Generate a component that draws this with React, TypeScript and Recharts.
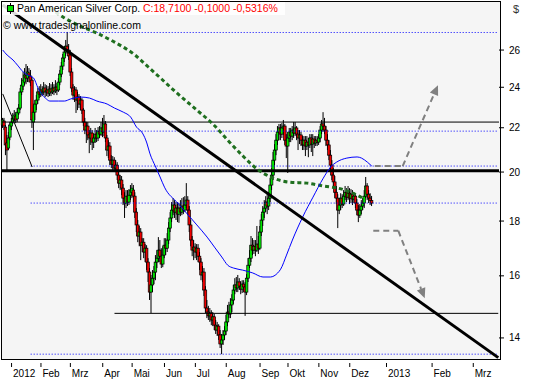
import React from 'react';
import { ComposedChart, Bar, Line, XAxis, YAxis, ReferenceLine } from 'recharts';

// Daily OHLC (trading days, late Dec 2011 .. mid Dec 2012)
const opens = [
  22.13, 22.32, 22.03, 21.29, 21.06, 21.56, 22.08, 22.27, 22.42, 22.56,
  22.42, 22.71, 22.95, 23.76, 24.06, 24.27, 24.59, 24.48, 24.75, 24.59,
  24.37, 22.27, 22.75, 23.15, 23.35, 23.76, 23.65, 23.86, 23.76, 23.96,
  23.76, 23.86, 23.70, 23.91, 23.76, 23.96, 23.81, 24.01, 23.86, 24.27,
  24.69, 25.12, 25.56, 25.89, 26.22, 26.00, 25.72, 24.80, 23.96, 23.60,
  23.86, 23.35, 23.50, 23.15, 23.35, 22.85, 22.27, 21.89, 22.08, 21.66,
  21.52, 21.75, 21.33, 21.52, 21.70, 21.52, 21.84, 21.70, 21.99, 21.80,
  22.18, 21.52, 20.97, 21.15, 20.52, 20.34, 20.52, 20.17, 20.30, 19.87,
  19.53, 19.66, 19.32, 18.91, 18.71, 18.99, 18.75, 19.03, 19.15, 19.24,
  18.99, 18.35, 17.85, 17.43, 17.58, 17.09, 17.20, 16.84, 16.98, 16.48,
  16.13, 15.45, 15.69, 15.92, 16.13, 16.48, 16.62, 16.91, 16.69, 16.41,
  16.73, 17.09, 16.98, 17.28, 17.73, 18.12, 18.43, 18.63, 18.35, 18.51,
  18.27, 18.51, 18.35, 18.59, 18.43, 18.63, 18.83, 18.43, 17.85, 17.28,
  16.91, 17.02, 16.84, 16.98, 16.69, 16.48, 16.03, 16.13, 15.52, 14.93,
  14.80, 14.68, 14.77, 14.55, 14.65, 14.39, 14.24, 14.36, 14.09, 13.82,
  13.94, 14.09, 14.21, 14.49, 14.80, 14.74, 15.03, 15.19, 15.52, 15.69,
  15.59, 15.79, 15.65, 15.55, 15.72, 15.62, 15.45, 15.92, 16.37, 16.62,
  17.09, 16.91, 17.05, 16.91, 17.13, 16.98, 17.58, 18.04, 18.35, 18.51,
  18.75, 18.59, 18.91, 19.45, 19.87, 20.52, 20.97, 21.42, 21.80, 21.99,
  21.70, 21.99, 22.08, 21.42, 21.15, 21.52, 21.80, 21.61, 21.89, 21.75,
  21.99, 21.70, 21.52, 21.66, 21.42, 21.20, 21.42, 21.15, 21.33, 21.20,
  21.52, 21.24, 21.47, 21.29, 21.42, 21.33, 21.52, 21.89, 22.18, 22.08,
  21.89, 21.42, 21.20, 20.74, 20.30, 19.87, 19.58, 19.15, 18.91, 18.43,
  18.63, 18.91, 18.67, 18.99, 19.15, 18.95, 19.11, 18.91, 19.07, 18.87,
  18.99, 18.71, 18.43, 18.23, 18.43, 18.59, 18.71, 18.99, 19.41, 19.07,
  18.91, 18.81,
];
const highs = [
  22.47, 22.47, 22.13, 21.66, 21.80, 22.27, 22.47, 22.71, 22.85, 22.75,
  22.95, 23.15, 23.96, 24.48, 24.80, 25.01, 25.23, 25.12, 25.01, 24.91,
  24.53, 23.10, 23.35, 23.60, 23.96, 24.06, 24.16, 24.06, 24.27, 24.16,
  24.11, 24.06, 24.22, 24.16, 24.27, 24.16, 24.37, 24.22, 24.48, 24.91,
  25.34, 25.78, 26.22, 26.57, 27.03, 26.34, 26.00, 25.01, 24.16, 24.06,
  24.01, 23.76, 23.65, 23.55, 23.45, 22.95, 22.47, 22.27, 22.27, 21.89,
  21.99, 21.89, 21.70, 21.99, 21.89, 22.03, 22.08, 22.27, 22.47, 22.61,
  22.32, 21.66, 21.42, 21.33, 20.74, 20.70, 20.65, 20.52, 20.43, 20.09,
  19.87, 19.83, 19.49, 19.15, 19.24, 19.24, 19.28, 19.45, 19.53, 19.45,
  19.15, 18.51, 18.04, 17.81, 17.73, 17.35, 17.35, 17.13, 17.09, 16.62,
  16.27, 16.03, 16.20, 16.34, 16.73, 16.91, 17.39, 17.28, 16.98, 17.05,
  17.35, 17.35, 17.54, 17.96, 18.35, 18.75, 18.91, 18.83, 18.75, 18.75,
  18.71, 18.83, 18.91, 18.95, 18.99, 19.53, 18.99, 18.59, 18.04, 17.43,
  17.28, 17.16, 17.13, 17.13, 16.84, 16.62, 16.34, 16.27, 15.65, 15.19,
  15.00, 14.93, 14.86, 14.80, 14.74, 14.55, 14.49, 14.42, 14.24, 14.12,
  14.24, 14.36, 14.71, 15.03, 15.13, 15.25, 15.38, 15.69, 15.92, 15.96,
  16.03, 15.92, 15.82, 15.85, 15.85, 15.79, 16.06, 16.62, 16.91, 17.43,
  17.35, 17.28, 17.28, 17.81, 17.43, 17.81, 18.27, 18.59, 18.83, 18.99,
  19.07, 19.15, 19.74, 20.17, 20.88, 21.24, 21.70, 22.08, 22.18, 22.18,
  22.22, 22.37, 22.18, 21.70, 21.80, 21.99, 21.99, 22.08, 22.27, 22.27,
  22.08, 21.89, 21.89, 21.80, 21.61, 21.61, 21.61, 21.61, 21.52, 21.70,
  21.70, 21.70, 21.61, 21.61, 21.61, 21.70, 22.08, 22.37, 22.75, 22.47,
  22.08, 21.70, 21.42, 20.97, 20.52, 20.17, 19.83, 19.41, 19.07, 18.91,
  19.11, 19.07, 19.24, 19.41, 19.32, 19.41, 19.32, 19.28, 19.24, 19.15,
  19.07, 18.87, 18.63, 18.67, 18.83, 18.91, 19.24, 19.79, 19.53, 19.24,
  19.11, 19.00,
];
const lows = [
  21.99, 21.89, 20.74, 20.00, 20.97, 21.42, 21.89, 22.18, 22.32, 22.22,
  22.27, 22.61, 22.85, 23.60, 23.86, 24.11, 24.16, 24.27, 24.27, 24.06,
  21.99, 20.97, 22.37, 22.85, 23.15, 23.45, 23.50, 23.55, 23.60, 23.50,
  23.55, 23.50, 23.55, 23.55, 23.65, 23.60, 23.70, 23.60, 23.76, 24.11,
  24.53, 24.91, 25.34, 25.67, 25.78, 25.45, 24.59, 23.76, 23.35, 23.25,
  22.71, 22.85, 22.95, 22.85, 22.66, 22.08, 21.70, 21.29, 21.42, 20.83,
  21.20, 20.97, 21.06, 21.29, 21.33, 21.38, 21.52, 21.61, 21.56, 21.61,
  21.33, 20.70, 20.61, 20.30, 20.17, 20.09, 20.00, 20.00, 19.66, 19.32,
  19.24, 19.03, 18.63, 18.12, 18.51, 18.59, 18.63, 18.83, 18.91, 18.75,
  18.12, 17.58, 17.20, 17.05, 16.55, 16.84, 16.62, 16.48, 16.20, 15.79,
  15.19, 14.77, 15.45, 15.72, 15.85, 16.27, 16.48, 16.48, 16.27, 16.30,
  16.62, 16.73, 16.84, 17.13, 17.58, 17.96, 18.23, 18.12, 18.04, 17.96,
  17.93, 18.19, 18.23, 18.27, 18.35, 18.51, 18.23, 17.58, 17.05, 16.69,
  16.55, 16.62, 16.55, 16.48, 16.20, 15.85, 15.79, 15.32, 14.77, 14.61,
  14.55, 14.49, 14.39, 14.36, 14.24, 14.12, 14.06, 13.94, 13.70, 13.52,
  13.79, 13.94, 14.09, 14.36, 14.61, 14.61, 14.80, 15.06, 15.38, 15.45,
  15.45, 15.52, 15.38, 15.42, 15.45, 14.68, 15.35, 15.79, 16.27, 16.48,
  16.73, 16.77, 16.69, 16.84, 16.77, 16.91, 17.43, 17.81, 18.12, 18.35,
  18.27, 18.43, 18.75, 19.24, 19.66, 20.30, 20.74, 21.20, 21.42, 21.42,
  21.52, 21.66, 21.20, 20.61, 19.96, 21.33, 21.33, 21.42, 21.52, 21.61,
  21.42, 20.97, 21.24, 21.15, 20.97, 20.97, 20.70, 20.97, 20.65, 21.06,
  20.88, 20.70, 21.06, 21.15, 21.15, 21.20, 21.33, 21.70, 21.80, 21.70,
  21.15, 20.97, 20.52, 20.09, 19.66, 19.41, 18.91, 18.67, 17.73, 18.27,
  18.43, 18.51, 18.59, 18.83, 18.75, 18.83, 18.67, 18.71, 18.63, 18.71,
  18.51, 18.23, 17.96, 18.12, 18.27, 18.43, 18.51, 18.91, 18.83, 18.71,
  18.63, 18.59,
];
const closes = [
  22.37, 22.08, 21.20, 20.97, 21.52, 22.13, 22.27, 22.47, 22.61, 22.37,
  22.75, 22.95, 23.76, 24.11, 24.37, 24.64, 24.48, 24.80, 24.64, 24.27,
  22.37, 22.75, 23.15, 23.35, 23.76, 23.65, 23.86, 23.76, 23.96, 23.76,
  23.86, 23.70, 23.91, 23.76, 23.96, 23.81, 24.01, 23.86, 24.27, 24.69,
  25.12, 25.56, 25.89, 26.22, 26.00, 25.67, 24.80, 23.96, 23.60, 23.86,
  23.35, 23.50, 23.15, 23.35, 22.85, 22.27, 21.89, 22.08, 21.66, 21.52,
  21.75, 21.33, 21.52, 21.70, 21.52, 21.84, 21.70, 21.99, 21.80, 22.18,
  21.52, 20.97, 21.15, 20.52, 20.34, 20.52, 20.17, 20.30, 19.87, 19.53,
  19.66, 19.32, 18.91, 18.71, 18.99, 18.75, 19.03, 19.24, 19.32, 18.99,
  18.35, 17.85, 17.43, 17.58, 17.09, 17.20, 16.84, 16.98, 16.48, 16.13,
  15.45, 15.69, 15.92, 16.13, 16.48, 16.62, 16.91, 16.69, 16.41, 16.73,
  17.09, 16.98, 17.28, 17.73, 18.12, 18.43, 18.63, 18.35, 18.51, 18.27,
  18.51, 18.35, 18.59, 18.43, 18.63, 18.83, 18.43, 17.85, 17.28, 16.91,
  17.02, 16.84, 16.98, 16.69, 16.48, 16.03, 16.13, 15.52, 14.93, 14.80,
  14.68, 14.77, 14.55, 14.65, 14.39, 14.24, 14.36, 14.09, 13.82, 13.94,
  14.09, 14.21, 14.49, 14.80, 14.74, 15.03, 15.19, 15.52, 15.69, 15.59,
  15.79, 15.65, 15.55, 15.72, 15.62, 15.45, 15.92, 16.37, 16.62, 17.09,
  16.91, 17.05, 16.91, 17.13, 16.98, 17.58, 18.04, 18.35, 18.51, 18.75,
  18.59, 18.91, 19.45, 19.87, 20.52, 20.97, 21.42, 21.80, 21.99, 21.70,
  21.99, 22.08, 21.42, 21.15, 21.52, 21.80, 21.61, 21.89, 21.75, 21.99,
  21.70, 21.52, 21.66, 21.42, 21.20, 21.42, 21.15, 21.33, 21.20, 21.52,
  21.24, 21.47, 21.29, 21.42, 21.33, 21.52, 21.89, 22.18, 22.08, 21.89,
  21.42, 21.20, 20.74, 20.30, 19.87, 19.58, 19.15, 18.91, 18.43, 18.63,
  18.91, 18.67, 18.99, 19.15, 18.95, 19.11, 18.91, 19.07, 18.87, 18.99,
  18.71, 18.43, 18.23, 18.43, 18.59, 18.71, 18.99, 19.41, 19.07, 18.91,
  18.81, 18.71,
];

// Moving averages read at sample slots
const maSlots = [0, 3, 7, 10, 14, 17, 21, 24, 27, 29, 32, 38, 42, 46, 53, 59, 64, 71, 76, 82, 87, 91, 95, 98, 100, 104, 107, 110, 119, 125, 132, 139, 144, 149, 153, 157, 163, 170, 177, 182, 187, 189, 193, 197, 204, 211, 218, 223, 227, 234, 241, 244, 248, 251];
const maValues = [26.0, 25.72, 25.45, 25.17, 24.8, 24.64, 24.48, 23.96, 23.6, 23.45, 23.3, 23.3, 23.3, 23.4, 23.5, 23.45, 23.3, 23.15, 22.95, 22.75, 22.51, 22.03, 21.75, 21.29, 20.83, 20.22, 19.79, 19.36, 18.71, 18.31, 17.85, 17.39, 17.02, 16.66, 16.37, 16.27, 16.2, 16.1, 15.96, 15.96, 16.1, 16.23, 16.73, 17.28, 18.16, 18.95, 19.74, 20.22, 20.43, 20.61, 20.66, 20.61, 20.43, 20.26];
const ma2Slots = [32, 42, 51, 64, 76, 90, 99, 108, 117, 132, 143, 153, 164, 173, 184, 195, 207, 218, 230, 241, 246];
const ma2Values = [28.46, 27.86, 27.44, 26.96, 26.45, 25.72, 25.07, 24.43, 23.8, 22.85, 22.17, 21.42, 20.66, 20.13, 19.74, 19.57, 19.53, 19.41, 19.29, 19.03, 18.87];

// Axis
const TOTAL_SLOTS = 338;
const monthTickSlots = [6, 26, 46, 68, 88, 110, 131, 152, 175, 194, 215, 236, 261, 292, 320];
const monthTickLabels = ['2012', 'Feb', 'Mrz', 'Apr', 'Mai', 'Jun', 'Jul', 'Aug', 'Sep', 'Okt', 'Nov', 'Dez', '2013', 'Feb', 'Mrz'];
const priceTicks = [14, 16, 18, 20, 22, 24, 26];
const priceDomain = [13.38, 28.83];

// Drawing tool levels
const hLines = [22.27];
const hLinesThick = [20.06];
const supportLevel = 14.76;
const supportStart = 76;
const dottedLevels = [27.0, 21.84, 20.26, 18.71, 13.52];
const dottedStart = 19;
const trendThick = [[0, 28.65], [337, 13.42]];
const trendThin = [[0, 23.66], [20, 20.22]];
const arrowUp = [[253, 20.26], [272, 20.26], [296, 24.11]];
const arrowDown = [[252, 17.63], [269, 17.63], [287, 15.25]];

const FONT = '"Liberation Sans", Arial, sans-serif';

const data = Array.from({ length: TOTAL_SLOTS }, (_, k) => {
  const row: any = { slot: k };
  if (k < closes.length) {
    row.range = [lows[k], highs[k]];
    row.open = opens[k];
    row.high = highs[k];
    row.low = lows[k];
    row.close = closes[k];
  }
  const mi = maSlots.indexOf(k);
  if (mi >= 0) row.ma = maValues[mi];
  const mj = ma2Slots.indexOf(k);
  if (mj >= 0) row.ma2 = ma2Values[mj];
  return row;
});

const Candle = (props: any) => {
  const { x, y, width, height, payload } = props;
  if (!payload || payload.high == null || !isFinite(y) || !isFinite(height)) return <g />;
  const cx = x + width / 2;
  const lh = Math.log(payload.high);
  const ll = Math.log(payload.low);
  const toY = (v: number) => (lh === ll ? y : y + ((lh - Math.log(v)) / (lh - ll)) * height);
  const yo = toY(payload.open);
  const yc = toY(payload.close);
  const top = Math.min(yo, yc);
  const h = Math.max(Math.abs(yo - yc), 1);
  const up = payload.close >= payload.open;
  return (
    <g>
      <line x1={cx} x2={cx} y1={y} y2={y + height} stroke="#000" strokeWidth={1} />
      <rect x={cx - 1.3} y={top} width={2.6} height={h} fill={up ? '#00e600' : '#ee0000'} stroke="#000" strokeWidth={0.7} />
    </g>
  );
};

const MonthTick = (props: any) => {
  const { x, y, payload } = props;
  const i = monthTickSlots.indexOf(payload.value);
  if (i < 0) return <g />;
  return (
    <g>
      <line x1={x} x2={x} y1={y + 4} y2={y + 8} stroke="#000" strokeWidth={1} />
      <text x={x + 1.5} y={y + 18} textAnchor="start" fontSize={10} fontFamily={FONT} fill="#000">
        {monthTickLabels[i]}
      </text>
    </g>
  );
};

const ArrowShape = (p: any) => {
  const { x1, y1, x2, y2 } = p;
  const dx = x2 - x1;
  const dy = y2 - y1;
  const len = Math.hypot(dx, dy) || 1;
  const ux = dx / len;
  const uy = dy / len;
  const hl = 10;
  const hw = 4.5;
  const bx = x2 - ux * hl;
  const by = y2 - uy * hl;
  return (
    <g>
      <line x1={x1} y1={y1} x2={bx} y2={by} stroke="#808080" strokeWidth={2} strokeDasharray="6 4" />
      <polygon points={`${x2},${y2} ${bx - uy * hw},${by + ux * hw} ${bx + uy * hw},${by - ux * hw}`} fill="#808080" />
    </g>
  );
};

export default function App() {
  return (
    <div style={{ position: 'absolute', left: 0, top: 0, width: 533, height: 380, background: '#fff', overflow: 'hidden' }}>
      <div style={{ position: 'absolute', left: 1, top: 1, width: 498, height: 357, border: '1px solid #000', background: '#f5f5f5' }} />
      <div style={{ position: 'absolute', left: 0, top: 0 }}>
        <ComposedChart width={533} height={380} data={data} margin={{ top: 2, right: 0, bottom: 0, left: 2 }}>
          <XAxis dataKey="slot" type="category" interval={0} tickLine={false} tickSize={0} tickMargin={0} axisLine={false} height={21} tick={<MonthTick />} />
          <YAxis
            orientation="right"
            type="number"
            scale="log"
            domain={priceDomain}
            allowDataOverflow
            ticks={priceTicks}
            width={34}
            tickSize={5}
            tickMargin={5}
            axisLine={false}
            tickLine={{ stroke: '#000' }}
            tick={{ fontSize: 10, fill: '#000', fontFamily: FONT }}
          />
          {dottedLevels.map((v, i) => (
            <ReferenceLine key={'d' + i} segment={[{ x: dottedStart, y: v }, { x: TOTAL_SLOTS - 1, y: v }]} stroke="#0000ff" strokeWidth={1} strokeDasharray="1 2" />
          ))}
          {hLines.map((v, i) => (
            <ReferenceLine key={'h' + i} y={v} stroke="#000" strokeWidth={1} />
          ))}
          {hLinesThick.map((v, i) => (
            <ReferenceLine key={'ht' + i} y={v} stroke="#000" strokeWidth={3} />
          ))}
          <ReferenceLine segment={[{ x: supportStart, y: supportLevel }, { x: TOTAL_SLOTS - 1, y: supportLevel }]} stroke="#000" strokeWidth={1} />
          <ReferenceLine segment={[{ x: trendThin[0][0], y: trendThin[0][1] }, { x: trendThin[1][0], y: trendThin[1][1] }]} stroke="#000" strokeWidth={1} />
          <Line dataKey="ma2" type="monotone" stroke="#1f6f1f" strokeWidth={3} strokeDasharray="4 3" dot={false} activeDot={false} connectNulls isAnimationActive={false} />
          <Line dataKey="ma" type="monotone" stroke="#0000ff" strokeWidth={1} dot={false} activeDot={false} connectNulls isAnimationActive={false} />
          <Bar dataKey="range" shape={<Candle />} isAnimationActive={false} barSize={1} />
          <ReferenceLine segment={[{ x: trendThick[0][0], y: trendThick[0][1] }, { x: trendThick[1][0], y: trendThick[1][1] }]} stroke="#000" strokeWidth={3} />
          <ReferenceLine segment={[{ x: arrowUp[0][0], y: arrowUp[0][1] }, { x: arrowUp[1][0], y: arrowUp[1][1] }]} stroke="#808080" strokeWidth={2} strokeDasharray="6 4" />
          <ReferenceLine segment={[{ x: arrowUp[1][0], y: arrowUp[1][1] }, { x: arrowUp[2][0], y: arrowUp[2][1] }]} shape={ArrowShape} />
          <ReferenceLine segment={[{ x: arrowDown[0][0], y: arrowDown[0][1] }, { x: arrowDown[1][0], y: arrowDown[1][1] }]} stroke="#808080" strokeWidth={2} strokeDasharray="6 4" />
          <ReferenceLine segment={[{ x: arrowDown[1][0], y: arrowDown[1][1] }, { x: arrowDown[2][0], y: arrowDown[2][1] }]} shape={ArrowShape} />
        </ComposedChart>
      </div>
      <div style={{ position: 'absolute', left: 2, top: 2, width: 283, height: 13, background: 'rgba(255,255,255,0.85)', fontFamily: FONT, fontSize: 10.5, lineHeight: '13px', whiteSpace: 'nowrap' }}>
        <svg width={12} height={13} style={{ position: 'absolute', left: 3, top: 0 }}>
          <line x1={5.5} x2={5.5} y1={1} y2={12} stroke="#000" strokeWidth={1} />
          <rect x={2.5} y={3.5} width={6} height={6} fill="#00e000" stroke="#000" strokeWidth={1} />
        </svg>
        <span style={{ position: 'absolute', left: 15, top: 0, color: '#000' }}>Pan American Silver Corp.</span>
        <span style={{ position: 'absolute', left: 141, top: 0, color: '#ff0000' }}>C:18,7100 -0,1000 -0,5316%</span>
      </div>
      <div style={{ position: 'absolute', left: 3, top: 19, fontFamily: FONT, fontSize: 10.5, lineHeight: '13px', color: '#000', whiteSpace: 'nowrap' }}>
        © www.tradesignalonline.com
      </div>
      <div style={{ position: 'absolute', left: 513, top: 3, fontFamily: FONT, fontSize: 11, lineHeight: '13px', color: '#333' }}>$</div>
    </div>
  );
}
